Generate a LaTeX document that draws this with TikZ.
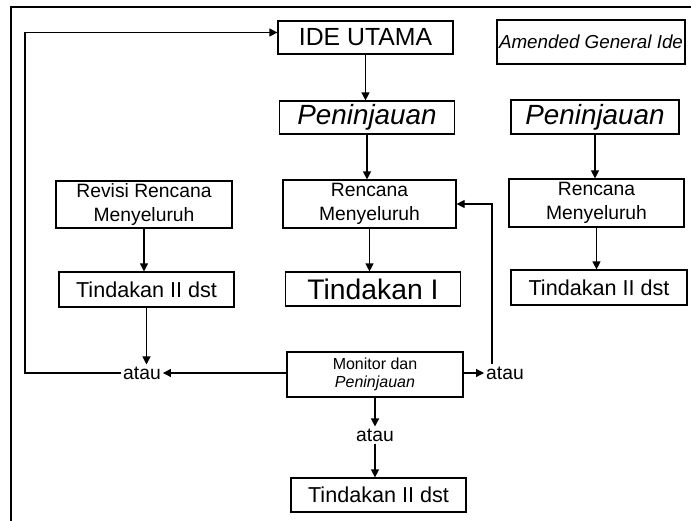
\documentclass[tikz,border=0pt]{standalone}
\usepackage{fontspec}
\setmainfont{Liberation Sans}
\usetikzlibrary{arrows.meta}

\tikzset{
  box/.style={draw, line width=1.2pt, minimum width=175pt, minimum height=34pt,
    align=center, inner sep=2pt},
  arr/.style={line width=1.2pt, -{Triangle[length=8pt,width=8pt]}},
  teksbesar/.style={font=\fontsize{27.8}{30}\selectfont},
  tekssedang/.style={font=\fontsize{19.3}{23.5}\selectfont},
  tekskecil/.style={font=\fontsize{16}{18.5}\selectfont},
  tekstindakan/.style={font=\fontsize{21.6}{24}\selectfont}
}

\begin{document}
\begin{tikzpicture}[x=1pt, y=-1pt]

  \useasboundingbox (0,0) rectangle (691,520);

  % --- frame ---
  \draw[line width=2pt] (11,522) -- (11,7) -- (693,7);

  % --- middle column ---
  \node[box, font=\fontsize{24.8}{28}\selectfont, minimum height=33pt] (ide) at (365.5,37.5) {IDE UTAMA};
  \node[box, teksbesar, minimum height=33pt] (tinjau) at (367,117.5) {\itshape Peninjauan};
  \node[box, tekssedang, minimum height=48pt, minimum width=173pt] (rencana) at (369.5,204) {Rencana\\Menyeluruh};
  \node[box, font=\fontsize{28.3}{30}\selectfont] (tindakan1) at (373,289) {Tindakan I};
  \node[box, tekskecil, minimum height=45pt, minimum width=176pt] (monitor) at (375,374.5) {Monitor dan\\\itshape Peninjauan};
  \node[tekssedang, inner sep=2pt] (atauC) at (375,435) {atau};
  \node[box, tekstindakan] (tindakanC) at (378.5,495) {Tindakan II dst};

  % --- left column ---
  \node[box, tekssedang, minimum height=47pt, minimum width=176pt] (revisi) at (144,204.5) {Revisi Rencana\\Menyeluruh};
  \node[box, tekstindakan, minimum height=35pt] (tindakanA) at (146.5,289.5) {Tindakan II dst};
  \node[tekssedang, inner sep=2pt] (atauL) at (142,373) {atau};

  % --- right column ---
  \node[box, font=\fontsize{18.8}{21}\selectfont\itshape, minimum height=44pt, minimum width=176pt] (amended) at (591,42) {Amended General Ide};
  \node[box, teksbesar, minimum width=168pt] (tinjauB) at (595,117) {\itshape Peninjauan};
  \node[box, tekssedang, minimum height=48pt] (rencanaB) at (596.5,203) {Rencana\\Menyeluruh};
  \node[box, tekstindakan, minimum height=35pt, minimum width=176pt] (tindakanB) at (599,287.5) {Tindakan II dst};
  \node[tekssedang, inner sep=2pt] (atauR) at (505,373) {atau};

  \coordinate (sudut) at (25,32);

  % --- arrows ---
  \draw[arr] (ide.south) -- (ide.south |- tinjau.north);
  \draw[arr] (tinjau.south) -- (tinjau.south |- rencana.north);
  \draw[arr] (rencana.south) -- (rencana.south |- tindakan1.north);
  \draw[arr] (monitor.south) -- (atauC.north);
  \draw[arr] (atauC.south) -- (atauC.south |- tindakanC.north);

  \draw[arr] (revisi.south) -- (revisi.south |- tindakanA.north);
  \draw[arr] (tindakanA.south) -- (tindakanA.south |- atauL.north);
  \draw[arr] (monitor.west |- atauL.east) -- (atauL.east);
  \draw[arr] (atauL.west) -- (atauL.west -| sudut) |- ([yshift=5pt]ide.west);

  \draw[arr] (monitor.east |- atauR.west) -- (atauR.west);
  \draw[arr] ([xshift=-13pt]atauR.north) |- (rencana.east);

  \draw[arr] (tinjauB.south) -- (tinjauB.south |- rencanaB.north);
  \draw[arr] (rencanaB.south) -- (rencanaB.south |- tindakanB.north);

\end{tikzpicture}
\end{document}
